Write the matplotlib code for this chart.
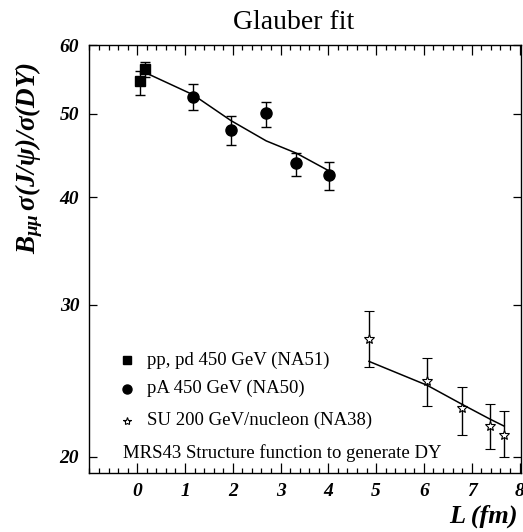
import matplotlib
matplotlib.use("Agg")
import matplotlib.pyplot as plt
from matplotlib.ticker import FixedLocator, MultipleLocator, NullLocator, FixedFormatter

plt.rcParams['font.family'] = ['Liberation Serif', 'DejaVu Serif']
plt.rcParams['mathtext.fontset'] = 'custom'
plt.rcParams['mathtext.rm'] = 'Liberation Serif:bold:italic'
plt.rcParams['mathtext.it'] = 'Liberation Serif:bold:italic'
plt.rcParams['mathtext.bf'] = 'Liberation Serif:bold:italic'

# NA51 pp, pd
sq_x = [0.05, 0.17]
sq_y = [54.5, 56.3]
sq_lo = [52.6, 55.2]
sq_hi = [56.1, 57.4]

# NA50 pA
ci_x = [1.17, 1.96, 2.70, 3.33, 4.02]
ci_y = [52.3, 47.9, 50.1, 43.8, 42.4]
ci_lo = [50.5, 46.0, 48.3, 42.3, 40.8]
ci_hi = [54.1, 49.7, 51.6, 45.0, 43.9]

# NA38 SU
st_x = [4.85, 6.07, 6.80, 7.39, 7.68]
st_y = [27.4, 24.5, 22.8, 21.7, 21.2]
st_lo = [25.4, 22.9, 21.2, 20.4, 20.0]
st_hi = [29.5, 26.0, 24.1, 23.0, 22.6]

# Glauber fit curves
fit1_x = [0.17, 1.17, 1.96, 2.70, 3.33, 4.02]
fit1_y = [55.8, 52.6, 49.1, 46.5, 45.0, 42.9]
fit2_x = [4.85, 6.07, 6.80, 7.39, 7.68]
fit2_y = [25.8, 24.2, 23.0, 22.1, 21.7]

y_ticks = [20, 30, 40, 50, 60]
x_ticks = [0, 1, 2, 3, 4, 5, 6, 7, 8]

legend_labels = ["pp, pd 450 GeV (NA51)", "pA 450 GeV (NA50)",
                 "SU 200 GeV/nucleon (NA38)"]
note = "MRS43 Structure function to generate DY"

fig = plt.figure(figsize=(5.23, 5.32), dpi=100)
ax = fig.add_axes([0.170, 0.111, 0.827, 0.8035])

def err(y, lo, hi):
    return [[a - b for a, b in zip(y, lo)], [b - a for a, b in zip(y, hi)]]

ax.plot(fit1_x, fit1_y, color='black', lw=1.1, zorder=2)
ax.plot(fit2_x, fit2_y, color='black', lw=1.1, zorder=2)

ax.errorbar(sq_x, sq_y, yerr=err(sq_y, sq_lo, sq_hi), fmt='s', color='black',
            ms=7.5, capsize=3.5, elinewidth=1.0, capthick=1.0, zorder=3)
ax.errorbar(ci_x, ci_y, yerr=err(ci_y, ci_lo, ci_hi), fmt='o', color='black',
            ms=8, capsize=3.5, elinewidth=1.0, capthick=1.0, zorder=3)
ax.errorbar(st_x, st_y, yerr=err(st_y, st_lo, st_hi), fmt='*', color='black',
            mfc='white', mec='black', mew=0.8, ms=7, capsize=3.5,
            elinewidth=1.0, capthick=1.0, zorder=3)

ax.set_yscale('log')
ax.set_xlim(-1.01, 8.04)
ax.set_ylim(19.15, 60)

ax.yaxis.set_major_locator(FixedLocator(y_ticks))
ax.yaxis.set_major_formatter(FixedFormatter([str(v) for v in y_ticks]))
ax.yaxis.set_minor_locator(NullLocator())
ax.xaxis.set_major_locator(FixedLocator(x_ticks))
ax.xaxis.set_minor_locator(MultipleLocator(0.2))

ax.tick_params(axis='both', which='both', direction='in', top=True, right=True,
               width=0.9)
ax.tick_params(axis='x', which='major', length=7, pad=7)
ax.tick_params(axis='x', which='minor', length=3.5)
ax.tick_params(axis='y', which='major', length=6, pad=7)
for lab in ax.get_xticklabels() + ax.get_yticklabels():
    lab.set_fontweight('bold')
    lab.set_fontstyle('italic')
    lab.set_fontsize(14)
for sp in ax.spines.values():
    sp.set_linewidth(1.0)

# legend drawn by hand
tx = 0.134
mx = 0.088
ys = [0.264, 0.197, 0.122]
markers = [dict(marker='s', ms=6, mfc='black'),
           dict(marker='o', ms=6.5, mfc='black'),
           dict(marker='*', ms=6, mfc='white', mew=0.8)]
for yy, lab, mk in zip(ys, legend_labels, markers):
    ax.plot([mx], [yy], transform=ax.transAxes, color='black', mec='black',
            ls='none', **mk)
    ax.text(tx, yy, lab, transform=ax.transAxes, fontsize=13.5, va='center',
            ha='left')
ax.text(0.079, 0.047, note, transform=ax.transAxes, fontsize=13.5, va='center',
        ha='left')

fig.text(0.562, 0.957, "Glauber fit", fontsize=20, ha='center', va='center')
fig.text(0.989, 0.029, "L (fm)", fontsize=19, ha='right', va='center',
         fontweight='bold', fontstyle='italic')
fig.text(0.055, 0.703,
         r'$B_{\mu\mu}\,\sigma(J/\psi)/\sigma(DY)$',
         fontsize=19.5, rotation=90, ha='center', va='center')

fig.savefig('out.png', dpi=100)
